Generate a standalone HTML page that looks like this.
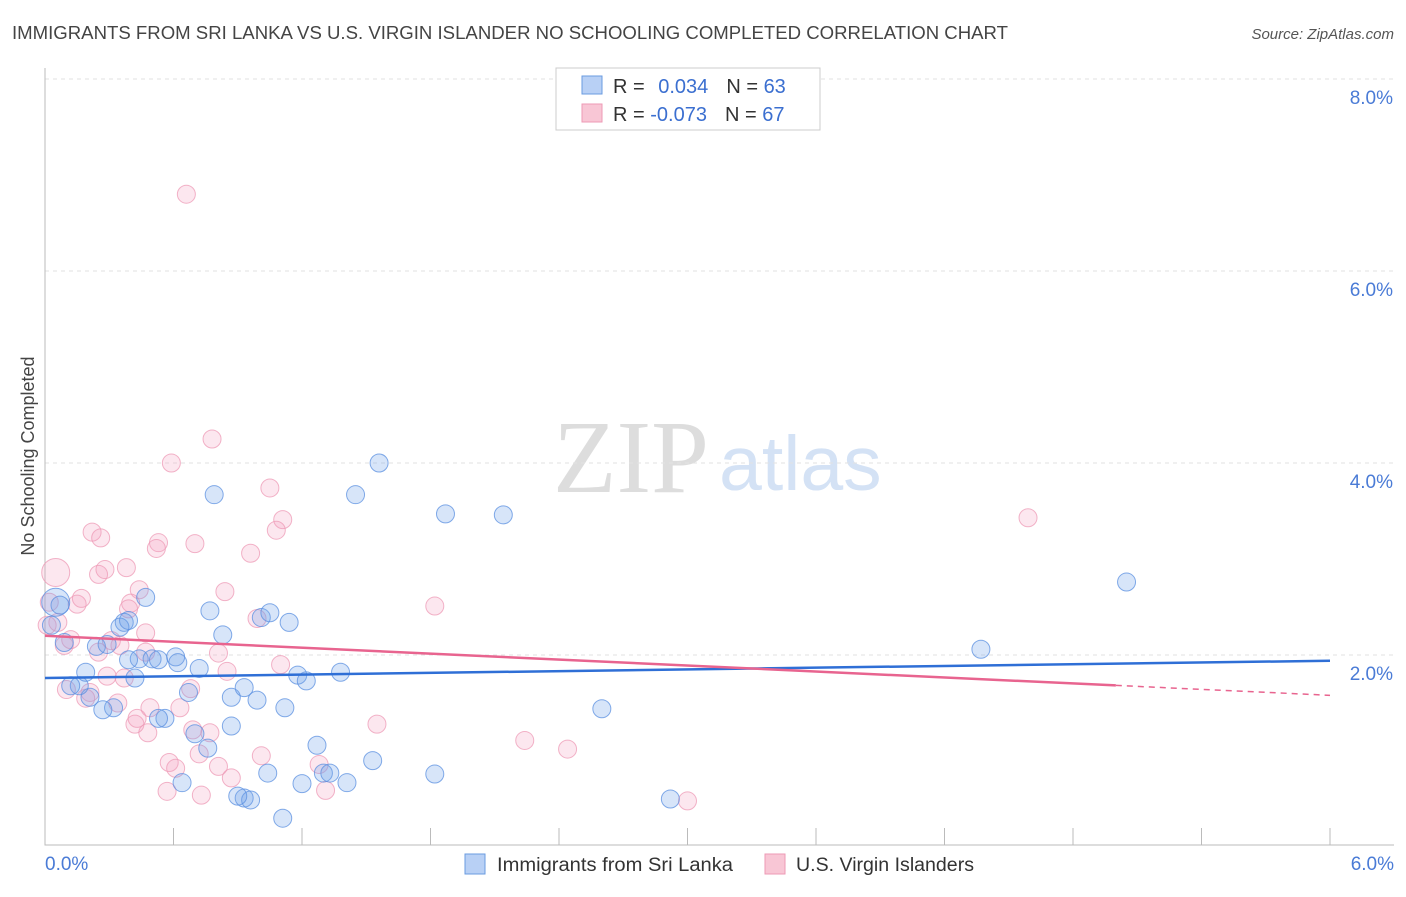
<!DOCTYPE html>
<html><head><meta charset="utf-8"><style>
body{margin:0;background:#fff;font-family:"Liberation Sans",sans-serif}
</style></head><body>
<svg id="c" width="1406" height="892" viewBox="0 0 1406 892" xmlns="http://www.w3.org/2000/svg" font-family="Liberation Sans, sans-serif">
<text x="12" y="39" font-size="18" fill="#444" textLength="996" lengthAdjust="spacingAndGlyphs">IMMIGRANTS FROM SRI LANKA VS U.S. VIRGIN ISLANDER NO SCHOOLING COMPLETED CORRELATION CHART</text>
<text x="1394" y="39" font-size="15" fill="#555" text-anchor="end" font-style="italic">Source: ZipAtlas.com</text>
<text x="553" y="492" font-size="104" fill="#ddd" font-family="Liberation Serif, serif">ZIP</text>
<text x="719" y="490" font-size="77" fill="#d4e2f5">atlas</text>
<text transform="translate(34,456) rotate(-90)" font-size="18" fill="#444" text-anchor="middle">No Schooling Completed</text>
<g id="grid"></g><g id="pts"></g><g id="trend"></g>
<g>
<rect x="556" y="68" width="264" height="62" fill="#fff" stroke="#ccc"/>
<rect x="582" y="76" width="20" height="18" fill="#b8d0f5" stroke="#6a9be0"/>
<rect x="582" y="104" width="20" height="18" fill="#f8c6d5" stroke="#ee9ab5"/>
<text x="613" y="93" font-size="20" fill="#333">R = <tspan fill="#3b6fd0" dx="8">0.034</tspan><tspan dx="18" fill="#333">N = </tspan><tspan fill="#3b6fd0">63</tspan></text>
<text x="613" y="121" font-size="20" fill="#333">R = <tspan fill="#3b6fd0">-0.073</tspan><tspan dx="18" fill="#333">N = </tspan><tspan fill="#3b6fd0">67</tspan></text>
</g>
<g>
<rect x="465" y="854" width="20" height="20" fill="#b8d0f5" stroke="#6a9be0"/>
<text x="497" y="871" font-size="19" fill="#333" textLength="236" lengthAdjust="spacingAndGlyphs">Immigrants from Sri Lanka</text>
<rect x="765" y="854" width="20" height="20" fill="#f8c6d5" stroke="#ee9ab5"/>
<text x="796" y="871" font-size="19" fill="#333" textLength="178" lengthAdjust="spacingAndGlyphs">U.S. Virgin Islanders</text>
</g>
</svg>
<script>
const blueX=[0.05,0.07,0.47,0.03,0.09,0.24,0.29,0.37,0.35,0.39,0.44,0.50,0.53,0.61,0.62,0.72,0.77,0.83,0.79,1.01,1.05,1.14,1.18,1.22,1.38,0.87,0.87,0.93,0.99,1.12,0.93,0.96,0.90,0.64,0.70,0.76,0.56,0.53,0.39,0.42,0.32,0.27,0.21,0.16,0.12,0.19,1.04,1.11,1.20,1.27,1.30,1.33,1.41,1.53,1.45,1.56,1.87,2.14,1.82,2.60,2.92,4.37,5.05,0.67];
const blueY=[2.55,2.52,2.60,2.31,2.13,2.09,2.11,2.34,2.29,2.36,1.96,1.96,1.95,1.98,1.92,1.86,2.46,2.21,3.67,2.39,2.44,2.34,1.79,1.73,1.82,1.26,1.56,1.66,1.53,1.45,0.51,0.49,0.53,0.67,1.18,1.03,1.34,1.34,1.95,1.76,1.45,1.43,1.56,1.68,1.68,1.82,0.77,0.30,0.66,1.06,0.77,0.77,0.67,0.90,3.67,4.00,3.47,3.46,0.76,1.44,0.50,2.06,2.76,1.61];
const pinkX=[0.05,0.02,0.01,0.06,0.09,0.12,0.15,0.17,0.21,0.19,0.22,0.26,0.25,0.28,0.38,0.40,0.39,0.44,0.47,0.31,0.35,0.25,0.48,0.49,0.53,0.52,0.42,0.43,0.66,0.78,0.59,0.70,0.84,0.81,0.85,0.68,0.63,0.77,0.69,0.58,0.61,0.72,0.81,0.87,0.57,0.73,0.96,1.05,1.11,1.08,0.99,1.10,1.01,1.28,1.31,1.55,1.82,2.24,2.44,3.00,4.59,0.47,0.29,0.37,0.10,0.34];
const pinkY=[2.86,2.55,2.31,2.34,2.10,2.16,2.53,2.59,1.61,1.55,3.28,3.22,2.84,2.89,2.91,2.54,2.48,2.68,2.23,2.15,2.10,2.03,1.19,1.45,3.17,3.11,1.28,1.34,6.80,4.25,4.00,3.16,2.66,2.02,1.83,1.65,1.45,1.19,1.22,0.88,0.82,0.97,0.84,0.72,0.58,0.54,3.06,3.74,3.41,3.30,2.38,1.90,0.95,0.86,0.59,1.28,2.51,1.11,1.02,0.48,3.43,2.03,1.78,1.76,1.64,1.50];
const blueTrend=[1.76,1.94];
const pinkTrend=[2.20,1.58];
const pinkSolidEnd=[5.0];
const yTicks=[2,4,6,8];
const xTickLabels=["0.0%","6.0%"];
const NS="http://www.w3.org/2000/svg";
const X=v=>45+v/6*1285, Y=v=>847-v*96;
function mk(t,a,p){const e=document.createElementNS(NS,t);for(const k in a)e.setAttribute(k,a[k]);p.appendChild(e);return e;}
const g=document.getElementById('grid');
yTicks.forEach(t=>{
 const l=mk('line',{x1:45,x2:1394,y1:Y(t),y2:Y(t),stroke:'#e2e2e2','stroke-dasharray':'4,4'},g);
 
 
 const tx=mk('text',{x:1393,y:Y(t)+25,'font-size':19,fill:'#4a7bd6','text-anchor':'end'},g);tx.textContent=t.toFixed(1)+'%';
 
 
});
const ax=mk('path',{d:'M45,68V845H1394',fill:'none',stroke:'#bbb'},g);


for(let i=0;i<=10;i++){const t=mk('line',{x1:X(i*0.6),x2:X(i*0.6),y1:828,y2:845,stroke:'#bbb'},g);
 
 }
[[0,'start',45],[1,'end',1394]].forEach(([i,a,x])=>{const t=mk('text',{x:x,y:870,'font-size':19,fill:'#4a7bd6','text-anchor':a},g);t.textContent=xTickLabels[i];
 
 });
const p=document.getElementById('pts');
function pts(xs,ys,fill,stroke,name){xs.forEach((x,i)=>{const c=mk('circle',{cx:X(x),cy:Y(ys[i]),r:i==0?14:9,fill:fill,stroke:stroke,'stroke-width':1,'stroke-opacity':0.75},p);
 
 });}
pts(pinkX,pinkY,'rgba(245,160,190,0.25)','#ee9ab5','point-virgin-islanders');
pts(blueX,blueY,'rgba(110,160,235,0.28)','#5a8fe0','point-sri-lanka');
const tr=document.getElementById('trend');
const b=mk('line',{x1:X(0),y1:Y(blueTrend[0]),x2:X(6),y2:Y(blueTrend[1]),stroke:'#2f6fd6','stroke-width':2.5},tr);


const pe=pinkTrend[0]+(pinkTrend[1]-pinkTrend[0])*pinkSolidEnd[0]/6;
const pk=mk('line',{x1:X(0),y1:Y(pinkTrend[0]),x2:X(pinkSolidEnd[0]),y2:Y(pe),stroke:'#e8648f','stroke-width':2.5},tr);


const pd=mk('line',{x1:X(pinkSolidEnd[0]),y1:Y(pe),x2:X(6),y2:Y(pinkTrend[1]),stroke:'#e8648f','stroke-width':1.5,'stroke-dasharray':'6,5'},tr);


</script>
</body></html>
